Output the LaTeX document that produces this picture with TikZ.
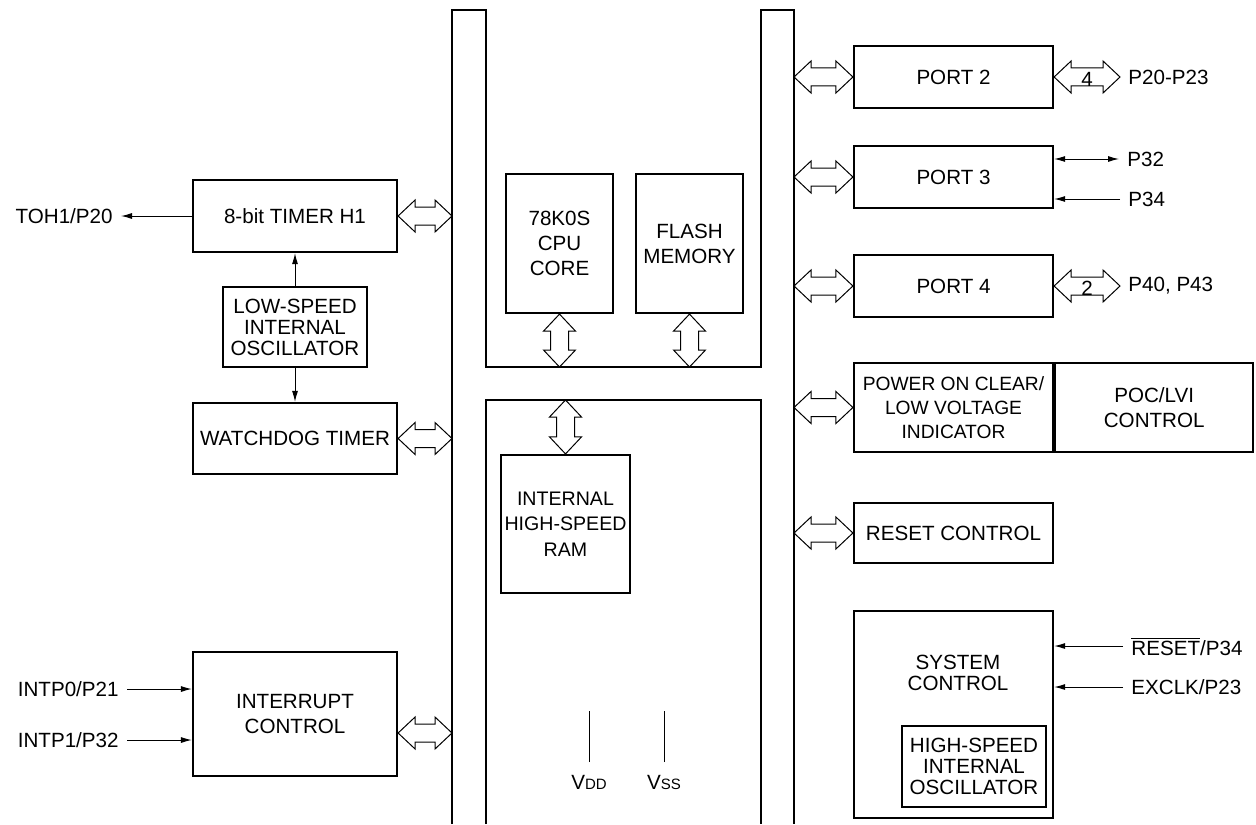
\documentclass[tikz,border=0pt]{standalone}
\usepackage{fontspec}
\setmainfont{Liberation Sans}
\usepackage{tikz}
\usetikzlibrary{arrows.meta, positioning, calc}

\tikzset{
  box/.style={draw, line width=1.1pt, align=center, inner sep=1pt},
  tight/.style={align=center, font=\fontsize{10.3}{10.5}\selectfont},
  bus/.style={line width=0.85pt},
  hollow/.style={line width=0.5pt, fill=white},
  thinline/.style={line width=0.5pt},
  sig/.style={line width=0.5pt, -{Latex[length=5.5pt,width=3pt]}},
  sigboth/.style={line width=0.5pt, {Latex[length=5.5pt,width=3pt]}-{Latex[length=5.5pt,width=3pt]}},
  pintext/.style={inner xsep=4pt, inner ysep=0pt},
}

% 空心双向箭头（水平：左端点，右端点）
\newcommand{\hollowh}[2]{%
  \draw[hollow] (#1) -- ++(17,-16) -- ++(0,7) -- ($(#2)+(-17,-9)$) -- ++(0,-7)
    -- (#2) -- ++(-17,16) -- ++(0,-7) -- ($(#1)+(17,9)$) -- ++(0,7) -- cycle;}
% 空心双向箭头（竖直：上端点，下端点）
\newcommand{\hollowv}[2]{%
  \draw[hollow] (#1) -- ++(16,17) -- ++(-7,0) -- ($(#2)+(9,-17)$) -- ++(7,0)
    -- (#2) -- ++(-16,-17) -- ++(7,0) -- ($(#1)+(-9,17)$) -- ++(-7,0) -- cycle;}

\begin{document}
\begin{tikzpicture}[x=0.5pt, y=-0.5pt, font=\fontsize{10.3}{12.5}\selectfont]
    \useasboundingbox (0,0) rectangle (1256,824);

    % 总线
    \draw[bus] (452,824) -- (452,10) -- (486,10) -- (486,367) -- (761,367) -- (761,10) -- (794,10) -- (794,824);
    \draw[bus] (486,824) -- (486,400) -- (761,400) -- (761,824);
    \coordinate (lb) at (452,0);
    \coordinate (rb) at (794,0);
    \coordinate (ub) at (0,367);
    \coordinate (db) at (0,400);

    % 左侧模块
    \node[box, minimum width=102pt, minimum height=36pt] (timer) at (295,216) {8-bit TIMER H1};
    \node[box, tight, minimum width=72pt, minimum height=40pt] (losc) at (295,327) {LOW-SPEED\\INTERNAL\\OSCILLATOR};
    \node[box, minimum width=102pt, minimum height=35.5pt] (wdt) at (295,438.5) {WATCHDOG TIMER};
    \node[box, minimum width=102pt, minimum height=62pt] (intc) at (295,714) {INTERRUPT\\CONTROL};

    \node[pintext, anchor=east] (toh) at (121,216) {TOH1/P20};
    \node[pintext, anchor=east] (intp0) at (127,689) {INTP0/P21};
    \node[pintext, anchor=east] (intp1) at (127,740) {INTP1/P32};

    \draw[sig] (timer.west) -- (toh.east);
    \draw[sig] (losc.north) -- (timer.south);
    \draw[sig] (losc.south) -- (wdt.north);
    \draw[sig] (intp0.east) -- (intp0.east -| intc.west);
    \draw[sig] (intp1.east) -- (intp1.east -| intc.west);

    % 中间模块
    \node[box, minimum width=53.5pt, minimum height=69.5pt] (cpu) at (559.5,243.5) {78K0S\\CPU\\CORE};
    \node[box, minimum width=53.5pt, minimum height=69.5pt] (flash) at (689.5,243.5) {FLASH\\MEMORY};
    \node[box, minimum width=64.5pt, minimum height=69pt, font=\fontsize{9.8}{12.8}\selectfont] (ram) at (565.5,524) {INTERNAL\\HIGH-SPEED\\RAM};

    % 电源
    \node[inner sep=3pt, anchor=north] (vdd) at (589,769) {V{\fontsize{7.5}{8}\selectfont DD}};
    \node[inner sep=3pt, anchor=north] (vss) at (664,769) {V{\fontsize{7.5}{8}\selectfont SS}};
    \draw[thinline] ([yshift=3.5pt]vdd.north) -- ++(0,-51);
    \draw[thinline] ([yshift=3.5pt]vss.north) -- ++(0,-51);

    % 右侧模块
    \node[box, minimum width=99.5pt, minimum height=31pt] (port2) at (953.5,77) {PORT 2};
    \node[box, minimum width=99.5pt, minimum height=31pt] (port3) at (953.5,177) {PORT 3};
    \node[box, minimum width=99.5pt, minimum height=31pt] (port4) at (953.5,286) {PORT 4};
    \node[box, minimum width=99.5pt, minimum height=44.5pt, font=\fontsize{9.6}{12}\selectfont] (poc) at (953.5,407.5) {POWER ON CLEAR/\\LOW VOLTAGE\\INDICATOR};
    \node[box, minimum width=99pt, minimum height=44.5pt, right=0pt of poc] (poclvi) {POC/LVI\\CONTROL};
    \node[box, minimum width=99.5pt, minimum height=30pt] (rst) at (953.5,533) {RESET CONTROL};
    \node[box, minimum width=99.5pt, minimum height=103.5pt] (sysc) at (953.5,714.5) {};
    \node[tight] (sysctxt) at (958,673) {SYSTEM\\CONTROL};
    \node[box, tight, minimum width=72pt, minimum height=40.5pt] (hosc) at (974,766.5) {HIGH-SPEED\\INTERNAL\\OSCILLATOR};

    \node[pintext, anchor=west] (p2pins) at (1120,77) {P20-P23};
    \node[pintext, anchor=west] (p32) at (1119,159) {P32};
    \node[pintext, anchor=west] (p34) at (1120,199) {P34};
    \node[pintext, anchor=west] (p4pins) at (1120,286) {P40, P43};
    \node[pintext, anchor=west] (resetpin) at (1123,646) {$\overline{\mbox{RESET}}$/P34};
    \node[pintext, anchor=west] (exclk) at (1123,687) {EXCLK/P23};

    \draw[sigboth] (p32.west) -- (p32.west -| port3.east);
    \draw[sig] (p34.west) -- (p34.west -| port3.east);
    \draw[sig] (resetpin.west) -- (resetpin.west -| sysc.east);
    \draw[sig] (exclk.west) -- (exclk.west -| sysc.east);

    % 空心箭头
    \hollowh{timer.east}{timer.east -| lb}
    \hollowh{wdt.east}{wdt.east -| lb}
    \coordinate (icb) at ([yshift=-9.5pt]intc.east);
    \hollowh{icb}{icb -| lb}

    \hollowh{port2.west -| rb}{port2.west}
    \hollowh{port3.west -| rb}{port3.west}
    \hollowh{port4.west -| rb}{port4.west}
    \hollowh{poc.west -| rb}{poc.west}
    \hollowh{rst.west -| rb}{rst.west}

    \hollowh{port2.east}{p2pins.west}
    \node (w4) at ($(port2.east)!0.5!(p2pins.west)+(0,2)$) {4};
    \hollowh{port4.east}{p4pins.west}
    \node (w2) at ($(port4.east)!0.5!(p4pins.west)+(0,2)$) {2};

    \hollowv{cpu.south}{cpu.south |- ub}
    \hollowv{flash.south}{flash.south |- ub}
    \hollowv{ram.north |- db}{ram.north}
\end{tikzpicture}
\end{document}
